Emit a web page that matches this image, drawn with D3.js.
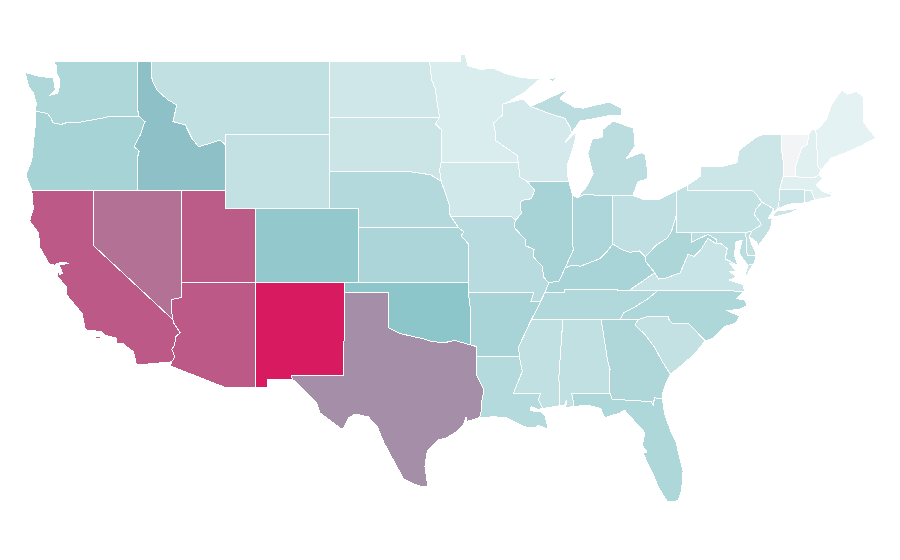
<!DOCTYPE html>
<html>
<head>
<meta charset="utf-8">
<script src="https://d3js.org/d3.v7.min.js"></script>
<style>
  html, body { margin: 0; background: #fff; }
  path { stroke: #fff; stroke-width: 1; shape-rendering: crispEdges; }
</style>
</head>
<body>
<script>
// values, vermont has no colour on the ramp
const stateNames = ["WA","OR","CA","NV","ID","MT","WY","UT","AZ","NM","CO","ND","SD","NE","KS","OK","TX","MN","IA","MO","AR","LA","WI","IL","MS","MI","IN","KY","TN","AL","OH","WV","VA","NC","SC","GA","FL","PA","NY","NJ","DE","MD","VT","NH","ME","MA","RI","CT"];
const stateValues = [35.2,38.7,82,75,51.5,27,26,81,82,100,47,20.9,22.6,33,36.5,50,66.5,16.5,20,31.3,38,32.2,19.1,38.3,27.4,29.6,36,38,33.9,27.4,27.8,35.6,23.5,35.2,26,34.8,35.2,26.5,22,26,27,30,null,13.5,11.3,13.5,20.4,24];
const colorStops = [0, 50, 100];
const colorRange = ["#ffffff", "#8cc6ca", "#d81b60"];
const noDataColor = "#f2f4f5";

// lon/lat extents and the pixels they land on
const lonDomain = [-109.05, -102.05], xPixels = [255.3, 358.55];
const latDomain = [49, 32], yPixels = [61, 375.2];

// outlines, lon/lat, one list of rings per state
const outlines = {
  WA: [[[-122.75,49],[-122.5,48.7],[-122.55,48.4],[-122.3,47.97],[-122.35,47.55],[-122.45,47.25],[-122.95,47.15],[-122.6,47.45],[-122.7,47.85],[-122.75,48.1],[-123.15,48.12],[-123.7,48.17],[-124.66,48.38],[-124.4,47.6],[-124.1,47.27],[-123.9,46.73],[-123.95,46.3],[-123.4,46.2],[-123.15,46.17],[-122.9,45.9],[-122.75,45.65],[-122.2,45.57],[-121.7,45.7],[-121.2,45.65],[-120.6,45.74],[-119.9,45.84],[-119.3,45.93],[-118.98,46],[-116.92,46],[-117.04,46.4],[-117.04,49]]],
  OR: [[[-123.95,46.3],[-123.4,46.2],[-123.15,46.17],[-122.9,45.9],[-122.75,45.65],[-122.2,45.57],[-121.7,45.7],[-121.2,45.65],[-120.6,45.74],[-119.9,45.84],[-119.3,45.93],[-118.98,46],[-116.92,46],[-116.53,45.72],[-116.85,45],[-117.27,44.36],[-117.03,44.2],[-116.93,44.1],[-117.03,43.8],[-117.03,42],[-124.2,42],[-124.4,42.4],[-124.6,42.83],[-124.2,43.64],[-124.05,44.9],[-123.95,45.6]]],
  CA: [[[-124.2,42],[-120,42],[-120,39],[-114.63,35],[-114.57,34.8],[-114.14,34.3],[-114.43,34.1],[-114.53,33.6],[-114.72,33.4],[-114.5,33],[-114.72,32.72],[-117.1,32.55],[-117.3,33.27],[-118.05,33.72],[-118.45,33.74],[-118.45,34],[-119.2,34.15],[-119.45,34.35],[-120.5,34.45],[-120.6,34.55],[-120.8,35.35],[-121.85,36.35],[-121.85,36.8],[-122.05,36.95],[-122.45,37.35],[-122.52,37.78],[-122.3,37.45],[-122.1,37.5],[-122.35,37.95],[-121.7,38.05],[-122.1,38.12],[-122.5,38.05],[-122.6,37.95],[-123,38],[-123.65,38.9],[-123.75,39.7],[-124.35,40.35],[-124.1,41]],
       [[-119.9,34.07],[-119.55,34.07],[-119.55,33.98],[-119.9,33.98]]],
  NV: [[[-120,42],[-114.04,42],[-114.04,36.2],[-114.75,36.1],[-114.74,35.5],[-114.63,35],[-120,39]]],
  ID: [[[-117.04,49],[-116.1,49],[-116.05,48],[-115.73,47.43],[-114.95,46.89],[-114.38,46.62],[-114.63,45.72],[-113.8,45.55],[-113.36,44.83],[-112.9,44.36],[-112.1,44.55],[-111.44,44.72],[-111.05,44.45],[-111.05,42],[-117.03,42],[-117.03,43.8],[-116.93,44.1],[-117.03,44.2],[-117.27,44.36],[-116.85,45],[-116.53,45.72],[-116.92,46],[-117.04,46.4]]],
  MT: [[[-116.1,49],[-104.05,49],[-104.05,45],[-111.05,45],[-111.05,44.45],[-111.44,44.72],[-112.1,44.55],[-112.9,44.36],[-113.36,44.83],[-113.8,45.55],[-114.63,45.72],[-114.38,46.62],[-114.95,46.89],[-115.73,47.43],[-116.05,48]]],
  WY: [[[-111.05,45],[-104.05,45],[-104.05,41],[-111.05,41]]],
  UT: [[[-114.04,42],[-111.05,42],[-111.05,41],[-109.05,41],[-109.05,37],[-114.04,37]]],
  AZ: [[[-114.04,37],[-109.05,37],[-109.05,31.33],[-111.07,31.33],[-114.81,32.5],[-114.72,32.72],[-114.5,33],[-114.72,33.4],[-114.53,33.6],[-114.43,34.1],[-114.14,34.3],[-114.57,34.8],[-114.63,35],[-114.74,35.5],[-114.75,36.1],[-114.04,36.2]]],
  NM: [[[-109.05,37],[-103,37],[-103,36.5],[-103.06,32],[-106.62,32],[-106.53,31.78],[-108.2,31.78],[-108.2,31.33],[-109.05,31.33]]],
  CO: [[[-109.05,41],[-102.05,41],[-102.05,37],[-109.05,37]]],
  ND: [[[-104.05,49],[-97.23,49],[-97.1,48],[-96.85,47.5],[-96.75,46.9],[-96.56,45.94],[-104.05,45.94]]],
  SD: [[[-104.05,45.94],[-96.56,45.94],[-96.85,45.6],[-96.45,45.3],[-96.45,43.5],[-96.55,43.1],[-96.45,42.5],[-97.2,42.85],[-98.5,43],[-104.05,43]]],
  NE: [[[-104.05,43],[-98.5,43],[-97.2,42.85],[-96.45,42.5],[-96.1,41.7],[-95.9,41.2],[-95.85,40.7],[-95.77,40.58],[-95.3,40],[-102.05,40],[-102.05,41],[-104.05,41]]],
  KS: [[[-102.05,40],[-95.3,40],[-94.9,39.75],[-95.1,39.55],[-94.6,39.1],[-94.62,37],[-102.05,37]]],
  OK: [[[-103,37],[-94.62,37],[-94.62,36.5],[-94.43,35.4],[-94.48,33.64],[-95.5,33.88],[-96.3,33.75],[-97.2,33.85],[-97.7,33.98],[-98.4,34.1],[-99.2,34.25],[-100,34.56],[-100,36.5],[-103,36.5]]],
  TX: [[[-103,36.5],[-100,36.5],[-100,34.56],[-99.2,34.25],[-98.4,34.1],[-97.7,33.98],[-97.2,33.85],[-96.3,33.75],[-95.5,33.88],[-94.48,33.64],[-94.04,33.55],[-94.04,32],[-93.55,31.2],[-93.7,30.6],[-93.72,30.1],[-93.85,29.7],[-94.7,29.5],[-94.75,29.75],[-94.95,29.3],[-95.4,28.95],[-96.1,28.6],[-96.65,28.5],[-97.15,28.1],[-97.4,27.86],[-97.55,27.05],[-97.35,25.96],[-97.6,25.95],[-98.3,26.1],[-99,26.4],[-99.45,27.05],[-100.3,28.3],[-100.6,28.85],[-100.8,29.25],[-101.4,29.75],[-102.3,29.9],[-102.7,29.7],[-103.15,29.05],[-104.65,29.95],[-104.9,30.5],[-106,31.4],[-106.53,31.78],[-106.62,32],[-103.06,32]]],
  MN: [[[-97.23,49],[-95.15,49],[-95.15,49.38],[-94.8,49.33],[-94.65,48.75],[-93.8,48.55],[-92.9,48.6],[-92,48.3],[-91,48.1],[-89.75,48.03],[-90.8,47.3],[-92.05,46.72],[-92.29,46.66],[-92.29,46.08],[-92.9,45.64],[-92.75,45],[-92.8,44.72],[-91.3,43.9],[-91.22,43.5],[-96.45,43.5],[-96.45,45.3],[-96.85,45.6],[-96.56,45.94],[-96.75,46.9],[-96.85,47.5],[-97.1,48]]],
  IA: [[[-96.45,43.5],[-91.22,43.5],[-91.1,42.7],[-90.64,42.5],[-90.1,42],[-90.35,41.55],[-91,41.45],[-91.1,41.2],[-91,40.75],[-91.42,40.38],[-91.7,40.6],[-95.77,40.58],[-95.85,40.7],[-95.9,41.2],[-96.1,41.7],[-96.45,42.5],[-96.55,43.1]]],
  MO: [[[-95.77,40.58],[-91.7,40.6],[-91.42,40.38],[-91.5,40],[-90.7,39.3],[-90.7,39],[-90.15,38.8],[-90.2,38.4],[-89.6,37.9],[-89.5,37.3],[-89.15,37],[-89.4,36.5],[-89.7,36],[-90.37,36],[-90.15,36.5],[-94.62,36.5],[-94.62,37],[-94.6,39.1],[-95.1,39.55],[-94.9,39.75],[-95.3,40]]],
  AR: [[[-94.62,36.5],[-90.15,36.5],[-90.37,36],[-89.7,36],[-90.1,35.36],[-90.4,34.9],[-90.8,34.2],[-91.2,33.55],[-91.15,33],[-94.04,33],[-94.04,33.55],[-94.48,33.64],[-94.43,35.4]]],
  LA: [[[-94.04,33],[-91.15,33],[-91,32.4],[-90.95,32.2],[-91.55,31.03],[-89.73,31],[-89.85,30.65],[-89.55,30.2],[-89.9,30.15],[-90.35,30.3],[-90.4,30.08],[-89.7,30.02],[-89.4,29.8],[-89.2,29.08],[-89.9,29.3],[-90.1,29.15],[-90.75,29.2],[-91.4,29.45],[-92,29.7],[-92.9,29.75],[-93.85,29.7],[-93.72,30.1],[-93.7,30.6],[-93.55,31.2],[-94.04,32]]],
  WI: [[[-92.29,46.66],[-92.05,46.72],[-90.9,46.95],[-90.4,46.55],[-89.1,46.15],[-88.05,45.9],[-87.7,45.4],[-87.6,45.1],[-88.05,44.6],[-87.25,45.17],[-87.5,44.3],[-87.85,43.5],[-87.9,43],[-87.8,42.5],[-90.64,42.5],[-91.1,42.7],[-91.22,43.5],[-91.3,43.9],[-92.8,44.72],[-92.75,45],[-92.9,45.64],[-92.29,46.08]]],
  IL: [[[-90.64,42.5],[-87.8,42.5],[-87.53,41.72],[-87.53,39.3],[-87.5,38.77],[-88.05,37.8],[-88.45,37.1],[-89.15,37],[-89.5,37.3],[-89.6,37.9],[-90.2,38.4],[-90.15,38.8],[-90.7,39],[-90.7,39.3],[-91.5,40],[-91.42,40.38],[-91,40.75],[-91.1,41.2],[-91,41.45],[-90.35,41.55],[-90.1,42]]],
  MS: [[[-91.15,33],[-91.2,33.55],[-90.8,34.2],[-90.4,34.9],[-90.3,35],[-88.2,35],[-88.47,31.9],[-88.4,30.35],[-89.55,30.2],[-89.85,30.65],[-89.73,31],[-91.55,31.03],[-90.95,32.2],[-91,32.4]]],
  MI: [[[-87.2,41.62],[-86.8,41.76],[-84.8,41.73],[-83.45,41.73],[-83.1,42.47],[-82.5,42.6],[-82.45,43],[-82.6,43.9],[-82.85,44.05],[-83.9,43.72],[-83.3,44.4],[-83.4,45.37],[-84.8,45.75],[-85.5,45.3],[-85.55,44.85],[-86.2,44.8],[-86.5,44],[-86.15,42.9],[-86.6,42.2]],
       [[-90.4,46.55],[-89.5,46.85],[-88.6,47.2],[-87.85,47.45],[-88.4,46.95],[-87.4,46.5],[-86.8,46.45],[-85.35,46.73],[-85,46.75],[-84.2,46.45],[-84.2,46.08],[-85,46.05],[-86.3,45.85],[-87.05,45.75],[-87.6,45.1],[-87.7,45.4],[-88.05,45.9],[-89.1,46.15]],
       [[-89.2,48],[-88.5,48.15],[-88.9,47.9]]],
  IN: [[[-87.53,41.72],[-87.2,41.62],[-86.8,41.76],[-84.8,41.73],[-84.82,39.1],[-85.2,38.7],[-85.7,38.3],[-86.35,38.1],[-87,37.9],[-87.6,37.95],[-88.05,37.8],[-87.5,38.77],[-87.53,39.3]]],
  KY: [[[-89.4,36.5],[-89.15,37],[-88.45,37.1],[-88.05,37.8],[-87.6,37.95],[-87,37.9],[-86.35,38.1],[-85.7,38.3],[-85.2,38.7],[-84.82,39.1],[-84.2,38.8],[-83.65,38.65],[-83,38.72],[-82.6,38.4],[-82.6,38.17],[-81.97,37.54],[-83.68,36.6],[-88.07,36.65],[-88.07,36.5]]],
  TN: [[[-90.3,35],[-88.2,35],[-84.32,35],[-84.05,35.4],[-83.3,35.7],[-82.4,36.15],[-81.75,36.59],[-83.68,36.6],[-88.07,36.65],[-88.07,36.5],[-89.4,36.5],[-89.7,36],[-90.1,35.36]]],
  AL: [[[-88.2,35],[-85.6,35],[-85.18,32.87],[-85,32.3],[-85.05,31.55],[-85,31],[-87.6,31],[-87.45,30.45],[-87.5,30.3],[-88,30.25],[-87.95,30.65],[-88.1,30.35],[-88.4,30.35],[-88.47,31.9]]],
  OH: [[[-84.8,41.73],[-83.45,41.73],[-82.7,41.5],[-81.7,41.5],[-80.52,41.98],[-80.52,40.64],[-80.6,40.4],[-80.85,39.75],[-81.15,39.4],[-81.85,39.05],[-82.6,38.4],[-83,38.72],[-83.65,38.65],[-84.2,38.8],[-84.82,39.1]]],
  WV: [[[-80.52,40.64],[-80.52,39.72],[-79.48,39.72],[-79.48,39.2],[-78.35,39.62],[-77.75,39.32],[-77.83,39.13],[-78.35,39.4],[-78.87,38.77],[-79.3,38.42],[-79.7,38.55],[-80.25,37.53],[-81.25,37.25],[-81.7,37.2],[-81.97,37.54],[-82.6,38.17],[-82.6,38.4],[-81.85,39.05],[-81.15,39.4],[-80.85,39.75],[-80.6,40.4]]],
  VA: [[[-83.68,36.6],[-81.75,36.59],[-75.87,36.55],[-76,36.9],[-76.9,37.15],[-76.45,37.3],[-76.85,37.6],[-76.4,37.6],[-76.9,38.05],[-76.35,37.95],[-77.2,38.3],[-77.05,38.85],[-77.5,39.13],[-77.83,39.13],[-78.35,39.4],[-78.87,38.77],[-79.3,38.42],[-79.7,38.55],[-80.25,37.53],[-81.25,37.25],[-81.7,37.2],[-81.97,37.54]],
       [[-75.95,37.1],[-75.6,37.6],[-75.25,38.03],[-75.65,37.95]]],
  NC: [[[-81.75,36.59],[-75.87,36.55],[-76.4,36.15],[-75.8,36.05],[-75.75,35.75],[-76.3,35.55],[-77.1,35.5],[-76.2,35.2],[-76.5,34.8],[-77.2,34.65],[-78,34],[-78.55,33.86],[-79.67,34.8],[-80.8,34.82],[-81.05,35.05],[-81.05,35.15],[-82.5,35.16],[-83.1,35],[-84.32,35],[-84.05,35.4],[-83.3,35.7],[-82.4,36.15]]],
  SC: [[[-83.3,34.72],[-83.1,35],[-82.5,35.16],[-81.05,35.15],[-81.05,35.05],[-80.8,34.82],[-79.67,34.8],[-78.55,33.86],[-79.1,33.3],[-79.9,32.7],[-80.5,32.3],[-80.9,32.05],[-81.4,32.66],[-81.95,33.47],[-82.6,34.17]]],
  GA: [[[-85.6,35],[-83.1,35],[-83.3,34.72],[-82.6,34.17],[-81.95,33.47],[-81.4,32.66],[-80.9,32.05],[-81.2,31.6],[-81.45,31],[-81.45,30.72],[-82,30.78],[-82.05,30.37],[-82.2,30.57],[-84.85,30.7],[-85,31],[-85.05,31.55],[-85,32.3],[-85.18,32.87]]],
  FL: [[[-87.5,30.3],[-87.45,30.45],[-87.6,31],[-85,31],[-84.85,30.7],[-82.2,30.57],[-82.05,30.37],[-82,30.78],[-81.45,30.72],[-81.3,29.9],[-80.9,29],[-80.55,28.45],[-80.05,26.8],[-80.15,25.75],[-80.4,25.2],[-81.1,25.15],[-81.7,25.9],[-82.1,26.7],[-82.5,27.3],[-82.75,27.8],[-82.5,27.85],[-82.8,28.2],[-82.65,28.9],[-83.2,29.38],[-84,30.1],[-84.35,29.95],[-85.34,29.7],[-85.65,30.2],[-86.5,30.38]]],
  PA: [[[-80.52,41.98],[-79.76,42.27],[-79.76,42],[-75.35,42],[-75.05,41.75],[-74.7,41.36],[-75.15,40.95],[-75.2,40.67],[-74.72,40.15],[-75.4,39.8],[-75.8,39.72],[-80.52,39.72]]],
  NY: [[[-79.76,42.27],[-78.9,42.75],[-78.9,43.27],[-77.55,43.27],[-76.4,43.5],[-76.25,44.18],[-75.05,44.9],[-74.7,45],[-73.35,45],[-73.4,44.3],[-73.25,43.55],[-73.27,42.75],[-73.5,42.05],[-73.55,41.3],[-73.65,41],[-73.9,40.8],[-73.9,41],[-74.7,41.36],[-75.05,41.75],[-75.35,42],[-79.76,42]],
       [[-74,40.6],[-73.7,40.88],[-72.6,40.98],[-72,41.08],[-72.7,40.8],[-73.9,40.55]]],
  NJ: [[[-74.7,41.36],[-73.9,41],[-74.25,40.5],[-74,40.45],[-74.1,40],[-74.3,39.7],[-74.95,39],[-75.05,39.2],[-75.55,39.5],[-75.4,39.8],[-74.72,40.15],[-75.2,40.67],[-75.15,40.95]]],
  DE: [[[-75.8,39.72],[-75.4,39.8],[-75.55,39.5],[-75.4,39.1],[-75.15,38.7],[-75.1,38.45],[-75.7,38.45]]],
  MD: [[[-79.48,39.72],[-75.8,39.72],[-75.7,38.45],[-75.1,38.45],[-75.25,38.03],[-75.65,37.95],[-75.9,38.2],[-76.25,38.6],[-76.05,39.3],[-76.5,39.2],[-76.55,38.45],[-76.35,37.95],[-77.2,38.3],[-77.05,38.85],[-77.5,39.13],[-77.83,39.13],[-77.75,39.32],[-78.35,39.62],[-79.48,39.2]]],
  VT: [[[-73.35,45],[-71.55,45],[-71.6,44.5],[-72,44.3],[-72.3,43.6],[-72.45,43.2],[-72.46,42.73],[-73.27,42.75],[-73.25,43.55],[-73.4,44.3]]],
  NH: [[[-71.55,45],[-71.3,45.3],[-71.05,45.3],[-70.9,43.3],[-70.7,43.07],[-70.85,42.87],[-71.1,42.7],[-72.46,42.73],[-72.45,43.2],[-72.3,43.6],[-72,44.3],[-71.6,44.5]]],
  ME: [[[-71.05,45.3],[-70.8,45.4],[-70.3,45.9],[-70,46.6],[-69.3,47.43],[-68.9,47.2],[-68.3,47.35],[-67.8,47.05],[-67.8,45.7],[-67.45,45.3],[-66.97,44.83],[-68,44.4],[-69,44.05],[-70,43.75],[-70.7,43.07],[-70.9,43.3]]],
  MA: [[[-73.5,42.05],[-73.27,42.75],[-72.46,42.73],[-71.1,42.7],[-70.85,42.87],[-70.6,42.65],[-71,42.3],[-70.6,41.95],[-70.05,41.8],[-70.25,42.07],[-69.95,41.9],[-70,41.65],[-70.65,41.55],[-71.12,41.5],[-71.38,42.02],[-71.8,42.02]]],
  RI: [[[-71.8,42.02],[-71.38,42.02],[-71.12,41.5],[-71.5,41.37],[-71.85,41.32]]],
  CT: [[[-73.5,42.05],[-71.8,42.02],[-71.85,41.32],[-72.9,41.25],[-73.65,41],[-73.55,41.3]]]
};

const width = 900, height = 560;

const xScale = d3.scaleLinear().domain(lonDomain).range(xPixels);
const yScale = d3.scaleLinear().domain(latDomain).range(yPixels);
const colorScale = d3.scaleLinear().domain(colorStops).range(colorRange);

// plain stretch of lon/lat, the map is not a conic one
const stretch = d3.geoTransform({
  point(lon, lat) { this.stream.point(xScale(lon), yScale(lat)); }
});
const path = d3.geoPath(stretch);

const svg = d3.select("body").append("svg")
    .attr("width", width)
    .attr("height", height)
    .style("display", "block");

svg.selectAll("path")
    .data(stateNames.map((name, i) => ({
      type: "Feature",
      id: name,
      properties: { value: stateValues[i] },
      geometry: { type: "MultiPolygon", coordinates: outlines[name].map(ring => [ring.concat([ring[0]])]) }
    })))
  .enter().append("path")
    .attr("d", path)
    .attr("fill", d => d.properties.value === null ? noDataColor : colorScale(d.properties.value));
</script>
</body>
</html>
